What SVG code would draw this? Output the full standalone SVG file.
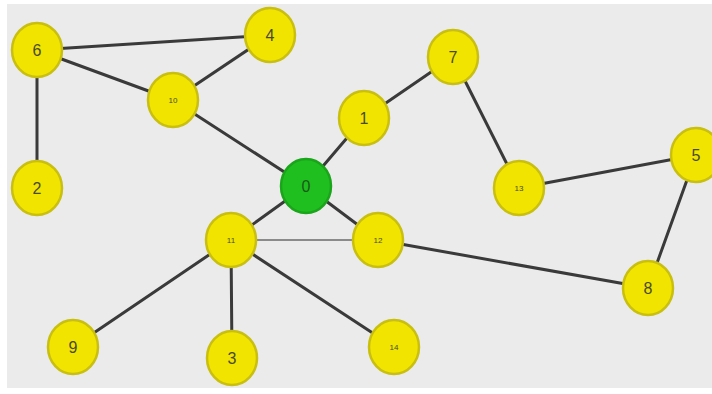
<svg xmlns="http://www.w3.org/2000/svg" width="712" height="394" viewBox="0 0 712 394">
<style>
.e{stroke:#3a3a3a;stroke-width:3;stroke-linecap:round}
.n{fill:#f0e400;stroke:#c9bf10;stroke-width:2.5}
.g{fill:#1fbf1f;stroke:#1aa51a;stroke-width:2.5}
.t{font-family:"Liberation Sans",Arial,sans-serif;font-size:16px;fill:#4a4a2a;text-anchor:middle;dominant-baseline:central}
.s{font-size:8px}
</style>
<rect x="0" y="0" width="712" height="394" fill="#ffffff"/>
<rect x="7" y="4" width="705" height="384" fill="#ebebeb"/>
<g id="edges">
<line class="e" x1="37" y1="50" x2="270" y2="35"/>
<line class="e" x1="37" y1="50" x2="173" y2="100"/>
<line class="e" x1="173" y1="100" x2="270" y2="35"/>
<line class="e" x1="37" y1="50" x2="37" y2="188"/>
<line class="e" x1="173" y1="100" x2="306" y2="186"/>
<line class="e" x1="306" y1="186" x2="364" y2="118"/>
<line class="e" x1="364" y1="118" x2="453" y2="57"/>
<line class="e" x1="453" y1="57" x2="519" y2="188"/>
<line class="e" x1="519" y1="188" x2="696" y2="155"/>
<line class="e" x1="696" y1="155" x2="648" y2="288"/>
<line class="e" x1="306" y1="186" x2="231" y2="240"/>
<line class="e" x1="306" y1="186" x2="378" y2="240"/>
<line class="e" x1="231" y1="240" x2="378" y2="240" style="stroke:#8a8a8a;stroke-width:2"/>
<line class="e" x1="378" y1="240" x2="648" y2="288"/>
<line class="e" x1="231" y1="240" x2="73" y2="347"/>
<line class="e" x1="231" y1="240" x2="232" y2="358"/>
<line class="e" x1="231" y1="240" x2="394" y2="347"/>
</g>
<g id="node6"><ellipse class="n" cx="37" cy="50" rx="25" ry="27"/><text class="t" x="37" y="50">6</text></g>
<g id="node4"><ellipse class="n" cx="270" cy="35" rx="25" ry="27"/><text class="t" x="270" y="35">4</text></g>
<g id="node10"><ellipse class="n" cx="173" cy="100" rx="25" ry="27"/><text class="t s" x="173" y="100">10</text></g>
<g id="node2"><ellipse class="n" cx="37" cy="188" rx="25" ry="27"/><text class="t" x="37" y="188">2</text></g>
<g id="node7"><ellipse class="n" cx="453" cy="57" rx="25" ry="27"/><text class="t" x="453" y="57">7</text></g>
<g id="node1"><ellipse class="n" cx="364" cy="118" rx="25" ry="27"/><text class="t" x="364" y="118">1</text></g>
<g id="node0"><ellipse class="g" cx="306" cy="186" rx="25" ry="27"/><text class="t" x="306" y="186" style="fill:#1a5a1a">0</text></g>
<g id="node13"><ellipse class="n" cx="519" cy="188" rx="25" ry="27"/><text class="t s" x="519" y="188">13</text></g>
<g id="node5"><ellipse class="n" cx="696" cy="155" rx="25" ry="27"/><text class="t" x="696" y="155">5</text></g>
<g id="node11"><ellipse class="n" cx="231" cy="240" rx="25" ry="27"/><text class="t s" x="231" y="240">11</text></g>
<g id="node12"><ellipse class="n" cx="378" cy="240" rx="25" ry="27"/><text class="t s" x="378" y="240">12</text></g>
<g id="node8"><ellipse class="n" cx="648" cy="288" rx="25" ry="27"/><text class="t" x="648" y="288">8</text></g>
<g id="node9"><ellipse class="n" cx="73" cy="347" rx="25" ry="27"/><text class="t" x="73" y="347">9</text></g>
<g id="node3"><ellipse class="n" cx="232" cy="358" rx="25" ry="27"/><text class="t" x="232" y="358">3</text></g>
<g id="node14"><ellipse class="n" cx="394" cy="347" rx="25" ry="27"/><text class="t s" x="394" y="347">14</text></g>
</svg>
